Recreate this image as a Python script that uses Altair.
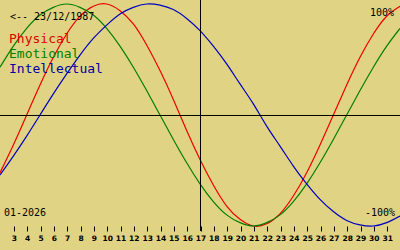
import altair as alt
import pandas as pd

days = list(range(2, 33))
physical = [-0.52, -0.27, 0.00, 0.27, 0.52, 0.73, 0.89, 0.98, 1.00, 0.94, 0.82, 0.63, 0.40, 0.14,
            -0.14, -0.40, -0.63, -0.82, -0.94, -1.00, -0.98, -0.89, -0.73, -0.52, -0.27, 0.00,
            0.27, 0.52, 0.73, 0.89, 0.98]
emotional = [0.43, 0.62, 0.78, 0.90, 0.97, 1.00, 0.97, 0.90, 0.78, 0.62, 0.43, 0.22, 0.00, -0.22,
             -0.43, -0.62, -0.78, -0.90, -0.97, -1.00, -0.97, -0.90, -0.78, -0.62, -0.43, -0.22,
             0.00, 0.22, 0.43, 0.62, 0.78]
intellectual = [-0.54, -0.37, -0.19, 0.00, 0.19, 0.37, 0.54, 0.69, 0.81, 0.91, 0.97, 1.00, 0.99,
                0.95, 0.87, 0.76, 0.62, 0.46, 0.28, 0.10, -0.10, -0.28, -0.46, -0.62, -0.76,
                -0.87, -0.95, -0.99, -1.00, -0.97, -0.91]
series_names = ["Physical", "Emotional", "Intellectual"]
line_colors = ["#ee0000", "#008000", "#0000c0"]
text_colors = ["#e00000", "#008000", "#0000a0"]
tick_days = list(range(3, 32))
today = 17
birth_label = "<-- 23/12/1987"
month_label = "01-2026"

rows = []
for name, vals in zip(series_names, [physical, emotional, intellectual]):
    for d, v in zip(days, vals):
        rows.append({"day": d, "value": v, "series": name})
df = pd.DataFrame(rows)

W, H = 400, 226
xscale = alt.Scale(domain=[2, 32], nice=False, zero=False)
yscale = alt.Scale(domain=[-1.0, 1.036], nice=False, zero=False)

lines = alt.Chart(df).mark_line(strokeWidth=1.2, interpolate="natural").encode(
    x=alt.X("day:Q", scale=xscale,
            axis=alt.Axis(values=tick_days, tickCount=60, format="d", title=None, domain=False, grid=False,
                          tickSize=5, tickColor="black", tickWidth=1, tickOffset=0.5,
                          labelOverlap=False, labelBound=False,
                          labelFont="DejaVu Sans", labelFontWeight="bold", labelFontSize=7.5,
                          labelColor="black", labelPadding=3, labelFlush=False)),
    y=alt.Y("value:Q", scale=yscale, axis=None),
    color=alt.Color("series:N", scale=alt.Scale(domain=series_names, range=line_colors), legend=None),
    detail="series:N",
)

vrule = alt.Chart(pd.DataFrame({"d": [today]})).mark_rule(color="black", strokeWidth=1, xOffset=0.5).encode(
    x=alt.X("d:Q", scale=xscale), y=alt.value(0), y2=alt.value(231))
hrule = alt.Chart(pd.DataFrame({"v": [0]})).mark_rule(color="black", strokeWidth=1, yOffset=0.5).encode(
    y=alt.Y("v:Q", scale=yscale), x=alt.value(0), x2=alt.value(400))

def txt(s, x, y, size, color="black", align="left", font="DejaVu Sans Mono"):
    return alt.Chart(pd.DataFrame({"t": [s]})).mark_text(
        align=align, baseline="alphabetic", fontSize=size, font=font, color=color
    ).encode(text="t:N", x=alt.value(x), y=alt.value(y))

texts = [
    txt(birth_label, 10, 20, 10),
    txt(series_names[0], 9, 43, 13, text_colors[0]),
    txt(series_names[1], 9, 58, 13, text_colors[1]),
    txt(series_names[2], 9, 73, 13, text_colors[2]),
    txt("100%", 394, 16, 10, align="right"),
    txt("-100%", 395, 216, 10, align="right"),
    txt(month_label, 4, 216, 10),
]

chart = alt.layer(lines, hrule, vrule, *texts).properties(
    width=W, height=H, background="#e1d384",
    padding={"left": 0, "top": 0, "right": 0, "bottom": 24},
    autosize=alt.AutoSizeParams(type="none"),
).configure_view(stroke=None)

chart.save("out.html", embed_options={"renderer": "svg", "actions": False})
